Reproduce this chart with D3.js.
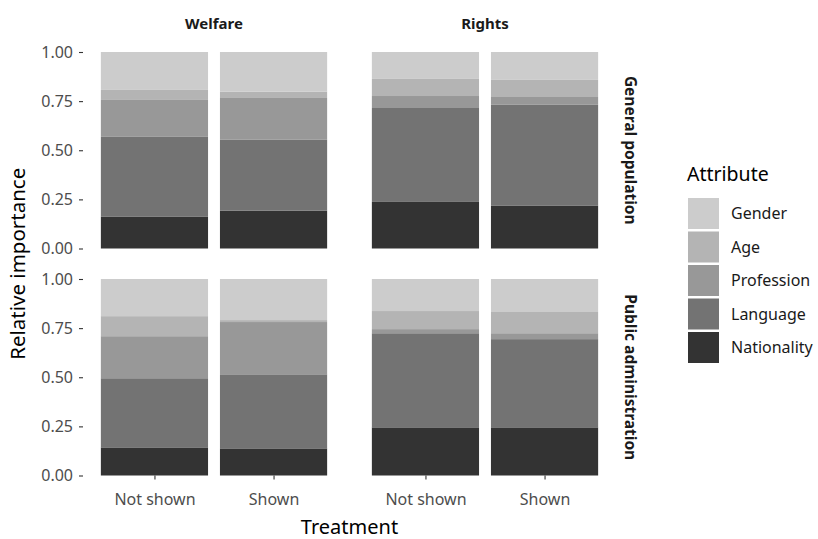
<!DOCTYPE html>
<html>
<head>
<meta charset="utf-8">
<script src="https://cdn.jsdelivr.net/npm/d3@7"></script>
<style>
  body { margin: 0; background: #fff; }
  svg { display: block; }
</style>
</head>
<body>
<svg id="chart" width="818" height="539"></svg>
<script>
// Facets and categories
const columns = ["Welfare", "Rights"];
const rows = ["General population", "Public administration"];
const treatments = ["Not shown", "Shown"];
const attributes = ["Nationality", "Language", "Profession", "Age", "Gender"];
const yTicks = [0, 0.25, 0.5, 0.75, 1];

// Relative importance, stacked bottom-up in the order of `attributes`
const genWelfareNotShown = [0.161, 0.407, 0.188, 0.051, 0.193];
const genWelfareShown    = [0.192, 0.361, 0.213, 0.032, 0.202];
const genRightsNotShown  = [0.237, 0.478, 0.061, 0.087, 0.137];
const genRightsShown     = [0.217, 0.514, 0.040, 0.087, 0.142];
const pubWelfareNotShown = [0.143, 0.352, 0.214, 0.102, 0.189];
const pubWelfareShown    = [0.138, 0.377, 0.266, 0.010, 0.209];
const pubRightsNotShown  = [0.245, 0.479, 0.021, 0.092, 0.163];
const pubRightsShown     = [0.245, 0.449, 0.030, 0.108, 0.168];

const panelData = {
  "General population": {
    "Welfare": { "Not shown": genWelfareNotShown, "Shown": genWelfareShown },
    "Rights":  { "Not shown": genRightsNotShown,  "Shown": genRightsShown }
  },
  "Public administration": {
    "Welfare": { "Not shown": pubWelfareNotShown, "Shown": pubWelfareShown },
    "Rights":  { "Not shown": pubRightsNotShown,  "Shown": pubRightsShown }
  }
};

const fills = {
  Nationality: "#333333",
  Language: "#737373",
  Profession: "#989898",
  Age: "#b4b4b4",
  Gender: "#cccccc"
};

const FONT = "'Noto Sans', 'Open Sans', sans-serif";
const svg = d3.select("#chart").attr("font-family", FONT);

// Panel geometry
const panelX = [83, 354];
const panelW = 262;
const panelY = [52, 279];
const panelH = 196.5;

// Discrete x layout: bars 0.9 units wide, 0.6 unit expansion on each side
const unit = panelW / 2.2;
const x = d3.scalePoint().domain(treatments).range([0.6 * unit, 1.6 * unit]);
const barW = 0.9 * unit;

const y = d3.scaleLinear().domain([0, 1]).range([panelH, 0]);

rows.forEach((row, ri) => {
  columns.forEach((col, ci) => {
    const g = svg.append("g")
      .attr("transform", `translate(${panelX[ci]},${panelY[ri]})`);

    treatments.forEach(t => {
      const vals = panelData[row][col][t];
      const stacked = [];
      let acc = 0;
      attributes.forEach((a, i) => {
        stacked.push({ attr: a, y0: acc, y1: acc + vals[i] });
        acc += vals[i];
      });
      g.selectAll(null)
        .data(stacked)
        .enter().append("rect")
        .attr("x", x(t) - barW / 2)
        .attr("width", barW)
        .attr("y", d => y(d.y1))
        .attr("height", d => y(d.y0) - y(d.y1))
        .attr("fill", d => fills[d.attr]);
    });

    // Y axis on the left column only
    if (ci === 0) {
      const ax = g.append("g")
        .call(d3.axisLeft(y).tickValues(yTicks).tickFormat(d3.format(".2f")).tickSize(4).tickPadding(6))
        .attr("font-family", FONT)
        .attr("font-size", 16);
      ax.select(".domain").remove();
      ax.selectAll(".tick line").attr("stroke", "#333333").attr("stroke-width", 1.1);
      ax.selectAll(".tick text").attr("fill", "#4d4d4d");
    }

    // X axis on the bottom row only
    if (ri === rows.length - 1) {
      const ax = g.append("g")
        .attr("transform", `translate(0,${panelH})`)
        .call(d3.axisBottom(x).tickSize(4).tickPadding(14))
        .attr("font-family", FONT)
        .attr("font-size", 16);
      ax.select(".domain").remove();
      ax.selectAll(".tick line").attr("stroke", "#333333").attr("stroke-width", 1.1);
      ax.selectAll(".tick text").attr("fill", "#4d4d4d");
    }

    // Column strips
    if (ri === 0) {
      svg.append("text")
        .attr("x", panelX[ci] + panelW / 2)
        .attr("y", 29)
        .attr("text-anchor", "middle")
        .attr("font-size", 15)
        .attr("font-weight", "bold")
        .attr("fill", "#1a1a1a")
        .text(col);
    }
  });

  // Row strips on the right
  const cy = panelY[ri] + panelH / 2;
  svg.append("text")
    .attr("transform", `translate(625,${cy}) rotate(90)`)
    .attr("text-anchor", "middle")
    .attr("font-size", 15.5)
    .attr("font-weight", "bold")
    .attr("fill", "#1a1a1a")
    .text(row);
});

// Axis titles
svg.append("text")
  .attr("x", (panelX[0] + panelX[1] + panelW) / 2)
  .attr("y", 534)
  .attr("text-anchor", "middle")
  .attr("font-size", 20)
  .attr("fill", "#000")
  .text("Treatment");

svg.append("text")
  .attr("transform", `translate(25,${(panelY[0] + panelY[1] + panelH) / 2}) rotate(-90)`)
  .attr("text-anchor", "middle")
  .attr("font-size", 20.5)
  .attr("fill", "#000")
  .text("Relative importance");

// Legend
const legend = svg.append("g").attr("transform", "translate(688,0)");
legend.append("text")
  .attr("x", -1)
  .attr("y", 181)
  .attr("font-size", 19.5)
  .attr("fill", "#000")
  .text("Attribute");

const legendOrder = attributes.slice().reverse();
legendOrder.forEach((a, i) => {
  const ky = 198 + i * 33.5;
  legend.append("rect")
    .attr("x", 0)
    .attr("y", ky)
    .attr("width", 31)
    .attr("height", 31)
    .attr("fill", fills[a]);
  legend.append("text")
    .attr("x", 43)
    .attr("y", ky + 15.5)
    .attr("dy", "0.35em")
    .attr("font-size", 16)
    .attr("fill", "#1a1a1a")
    .text(a);
});
</script>
</body>
</html>
